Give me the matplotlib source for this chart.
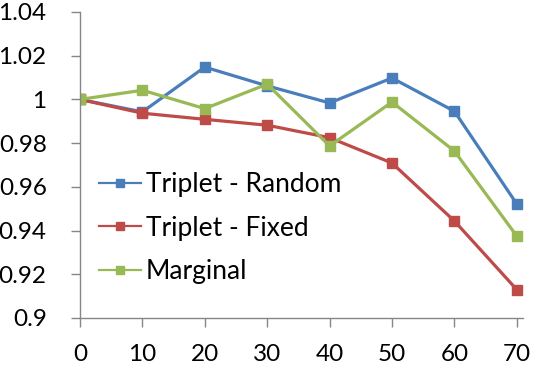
import matplotlib
matplotlib.use("Agg")
import matplotlib.pyplot as plt

x = [0, 10, 20, 30, 40, 50, 60, 70]
triplet_random = [1.0, 0.9943, 1.0148, 1.0062, 0.9984, 1.0098, 0.9946, 0.9522]
triplet_fixed = [1.0, 0.9937, 0.9909, 0.9882, 0.9825, 0.9709, 0.9444, 0.9130]
marginal = [1.0, 1.0042, 0.9958, 1.0070, 0.9787, 0.9988, 0.9764, 0.9375]
yticks = [0.9, 0.92, 0.94, 0.96, 0.98, 1.0, 1.02, 1.04]
ytick_labels = ["0.9", "0.92", "0.94", "0.96", "0.98", "1", "1.02", "1.04"]

plt.rcParams['font.family'] = ['Lato', 'DejaVu Sans']

fig = plt.figure(figsize=(5.36, 3.68), dpi=100)
ax = fig.add_axes([80/536, 50/368, (523-80)/536, (318-12)/368])

series = [("Triplet - Random", triplet_random, "#4A7EBB"),
          ("Triplet - Fixed", triplet_fixed, "#BE4B48"),
          ("Marginal", marginal, "#98B954")]
for name, vals, c in series:
    ax.plot(x, vals, color=c, lw=2.3, marker="s", ms=6.5, label=name, solid_joinstyle="round")

ax.set_xlim(0, 71)
ax.set_ylim(0.9, 1.04)
ax.set_xticks(x)
ax.set_xticklabels([str(v) for v in x])
ax.set_yticks(yticks)
ax.set_yticklabels(ytick_labels)
for s in ["top", "right"]:
    ax.spines[s].set_visible(False)
for s in ["left", "bottom"]:
    ax.spines[s].set_color("#868686")
    ax.spines[s].set_linewidth(1.0)
ax.tick_params(axis="both", colors="#868686", labelcolor="black", labelsize=17.5, length=6.5, width=1.0)
ax.tick_params(axis="y", pad=17.5)
ax.tick_params(axis="x", pad=12)

handles = [plt.Line2D([], [], color=c, lw=1.6, marker="s", ms=5.5) for _, _, c in series]
leg = ax.legend(handles, [s[0] for s in series], loc="upper left",
                bbox_to_anchor=(0.012, 0.52), frameon=False, fontsize=19,
                handlelength=1.6, labelspacing=0.7, handletextpad=0.2, borderpad=0.0)
fig.savefig("out.png", dpi=100)
